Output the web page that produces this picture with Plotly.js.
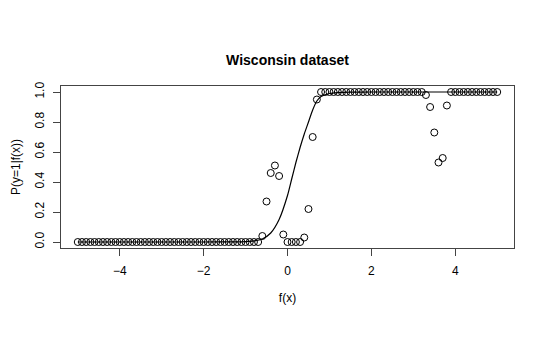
<!DOCTYPE html>
<html>
<head>
<meta charset="utf-8">
<script src="https://cdn.plot.ly/plotly-3.0.1.min.js"></script>
<style>html,body{margin:0;padding:0;background:#fff;}#chart{width:545px;height:353px;}</style>
</head>
<body>
<div id="chart"></div>
<script>
// Binned scores f(x) and empirical P(y=1|f(x))
var fx = [-5.0,-4.9,-4.8,-4.7,-4.6,-4.5,-4.4,-4.3,-4.2,-4.1,-4.0,-3.9,-3.8,-3.7,-3.6,-3.5,-3.4,-3.3,-3.2,-3.1,
  -3.0,-2.9,-2.8,-2.7,-2.6,-2.5,-2.4,-2.3,-2.2,-2.1,-2.0,-1.9,-1.8,-1.7,-1.6,-1.5,-1.4,-1.3,-1.2,-1.1,
  -1.0,-0.9,-0.8,-0.7,-0.6,-0.5,-0.4,-0.3,-0.2,-0.1,0.0,0.1,0.2,0.3,0.4,0.5,0.6,0.7,0.8,0.9,
  1.0,1.1,1.2,1.3,1.4,1.5,1.6,1.7,1.8,1.9,2.0,2.1,2.2,2.3,2.4,2.5,2.6,2.7,2.8,2.9,
  3.0,3.1,3.2,3.3,3.4,3.5,3.6,3.7,3.8,3.9,4.0,4.1,4.2,4.3,4.4,4.5,4.6,4.7,4.8,4.9,5.0];
var prob = [0,0,0,0,0,0,0,0,0,0,0,0,0,0,0,0,0,0,0,0,
  0,0,0,0,0,0,0,0,0,0,0,0,0,0,0,0,0,0,0,0,
  0,0,0,0,0.04,0.27,0.46,0.51,0.44,0.05,0,0,0,0,0.03,0.22,0.70,0.95,1,1,
  1,1,1,1,1,1,1,1,1,1,1,1,1,1,1,1,1,1,1,1,
  1,1,1,0.98,0.90,0.73,0.53,0.56,0.91,1,1,1,1,1,1,1,1,1,1,1,1];
// Fitted sigmoid curve
var curveX = [-5.0,-2.0,-1.2,-1.0,-0.8,-0.6,-0.4,-0.2,0.0,0.1,0.2,0.3,0.4,0.5,0.6,0.7,0.8,1.0,1.2,1.5,2.0,5.0];
var curveY = [0,0.0001,0.001,0.003,0.007,0.02,0.06,0.15,0.31,0.42,0.53,0.63,0.72,0.80,0.88,0.94,0.97,0.99,0.996,0.999,1,1];
var xTicks = [-4,-2,0,2,4];
var xTickText = ['\u22124','\u22122','0','2','4'];
var yTicks = [0,0.2,0.4,0.6,0.8,1.0];
var yTickText = ['0.0','0.2','0.4','0.6','0.8','1.0'];

var axisFont = {family:'Liberation Sans, Arial, sans-serif', size:12, color:'#000'};
var traces = [
  {x: curveX, y: curveY, type:'scatter', mode:'lines',
   line:{color:'#000', width:1.2, shape:'spline', smoothing:0.6}, hoverinfo:'skip'},
  {x: fx, y: prob, type:'scatter', mode:'markers',
   marker:{symbol:'circle-open', size:7, color:'#000', line:{width:1, color:'#000'}}}
];
var layout = {
  width:545, height:353,
  margin:{l:61, r:31, t:86, b:105},
  paper_bgcolor:'#fff', plot_bgcolor:'#fff',
  showlegend:false,
  font: axisFont,
  title:{text:'<b>Wisconsin dataset</b>', font:{family:'Liberation Sans, Arial, sans-serif', size:14, color:'#000'},
         x:0.5, xref:'paper', y:0.83, yref:'container', yanchor:'middle'},
  xaxis:{range:[-5.4,5.4], tickvals:xTicks, ticktext:xTickText,
         ticks:'outside', ticklen:7, tickcolor:'#444', showline:true, linecolor:'#444', linewidth:1, mirror:true,
         showgrid:false, zeroline:false, tickfont:axisFont, ticklabelstandoff:5,
         title:{text:'f(x)', font:axisFont, standoff:16}},
  yaxis:{range:[-0.04,1.04], tickvals:yTicks, ticktext:yTickText,
         tickangle:-90, ticks:'outside', ticklen:7, tickcolor:'#444', showline:true, linecolor:'#444', linewidth:1, mirror:true,
         showgrid:false, zeroline:false, tickfont:axisFont, ticklabelstandoff:4,
         title:{text:'P(y=1|f(x))', font:axisFont, standoff:10}}
};
Plotly.newPlot('chart', traces, layout, {displayModeBar:false, staticPlot:true});
</script>
</body>
</html>
